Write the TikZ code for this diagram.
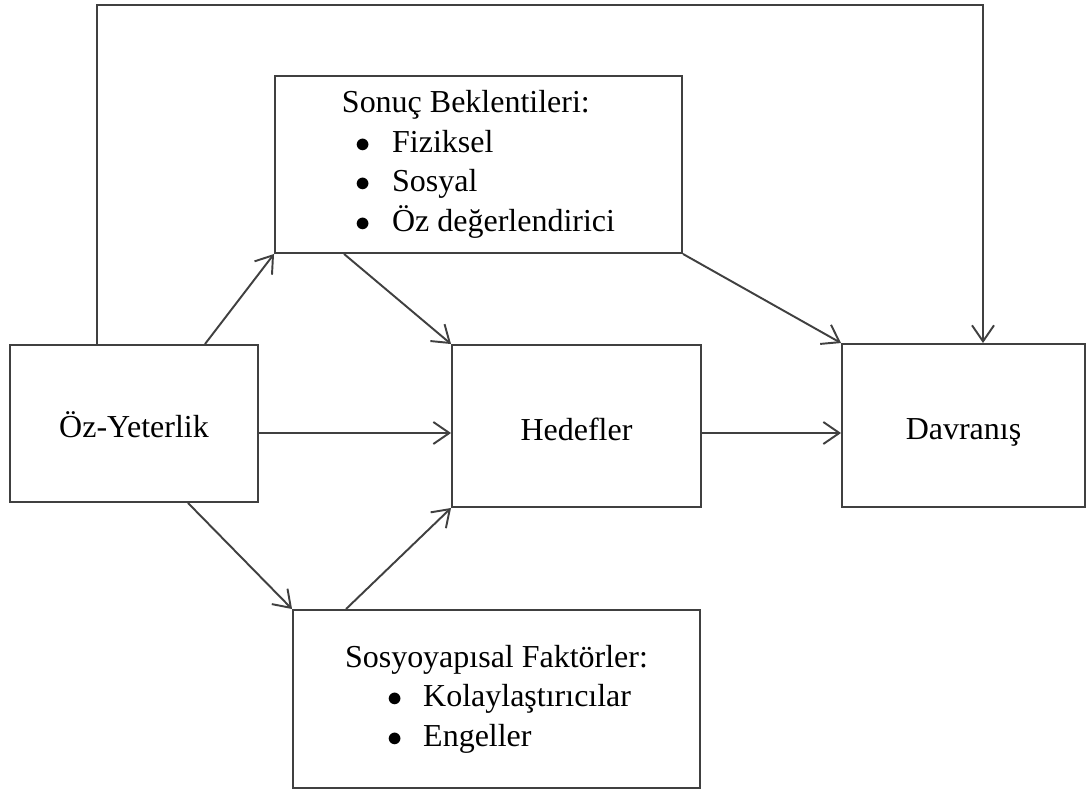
\documentclass[tikz,border=0pt]{standalone}
\usepackage{fontspec}
\setmainfont{Liberation Serif}
\usetikzlibrary{arrows.meta,calc}

\newcommand{\itm}[1]{$\bullet$\hspace{4.2mm}#1}

\begin{document}
\begin{tikzpicture}[
    x=0.2mm, y=-0.2mm,
    box/.style={draw=black!75, line width=1.1pt, font=\fontsize{18.2}{22.5}\selectfont, align=left, inner sep=0pt},
    word/.style={box, text height=5.6mm, text depth=0pt},
    arr/.style={-{Straight Barb[length=3.2mm, width=4.4mm]}, draw=black!75, line width=1.1pt},
]
\useasboundingbox (0,0) rectangle (1087,792);

% Main boxes
\node[word, minimum width=49.6mm, minimum height=31.4mm] (ozy) at (134,423.5) {Öz-Yeterlik};
\node[word, minimum width=49.8mm, minimum height=32.4mm] (hedef) at (576.5,426) {Hedefler};
\node[word, minimum width=48.6mm, minimum height=32.6mm] (davr) at (963.5,425.5) {Davranış};

% Boxes with lists
\node[box, minimum width=81.4mm, minimum height=35.4mm] (sonuc) at (478.5,164.5)
    {Sonuç Beklentileri:\\ \hspace*{2.8mm}\itm{Fiziksel}\\ \hspace*{2.8mm}\itm{Sosyal}\\ \hspace*{2.8mm}\itm{Öz değerlendirici}};
\node[box, minimum width=81.4mm, minimum height=35.6mm] (sosyo) at (496.5,699)
    {Sosyoyapısal Faktörler:\\ \hspace*{8.4mm}\itm{Kolaylaştırıcılar}\\ \hspace*{8.4mm}\itm{Engeller}};

% Helper points
\coordinate (row) at (0,433);
\coordinate (top) at (0,5);
\coordinate (loopstart) at ($(ozy.north)+(-37,0)$);
\coordinate (loopend) at ($(davr.north)+(19.5,0)$);

% Direct path over the top
\draw[arr] (loopstart) -- (loopstart |- top) -- (loopend |- top) -- (loopend);

% Arrows to and from the upper box
\draw[arr] ($(ozy.north)+(71,0)$) -- (sonuc.south west);
\draw[arr] ($(sonuc.south west)+(70,0)$) -- (hedef.north west);
\draw[arr] (sonuc.south east) -- (davr.north west);

% Middle row
\draw[arr] (ozy.east |- row) -- (hedef.west |- row);
\draw[arr] (hedef.east |- row) -- (davr.west |- row);

% Arrows to and from the lower box
\draw[arr] ($(ozy.south)+(54,0)$) -- (sosyo.north west);
\draw[arr] ($(sosyo.north west)+(54,0)$) -- (hedef.south west);
\end{tikzpicture}
\end{document}
